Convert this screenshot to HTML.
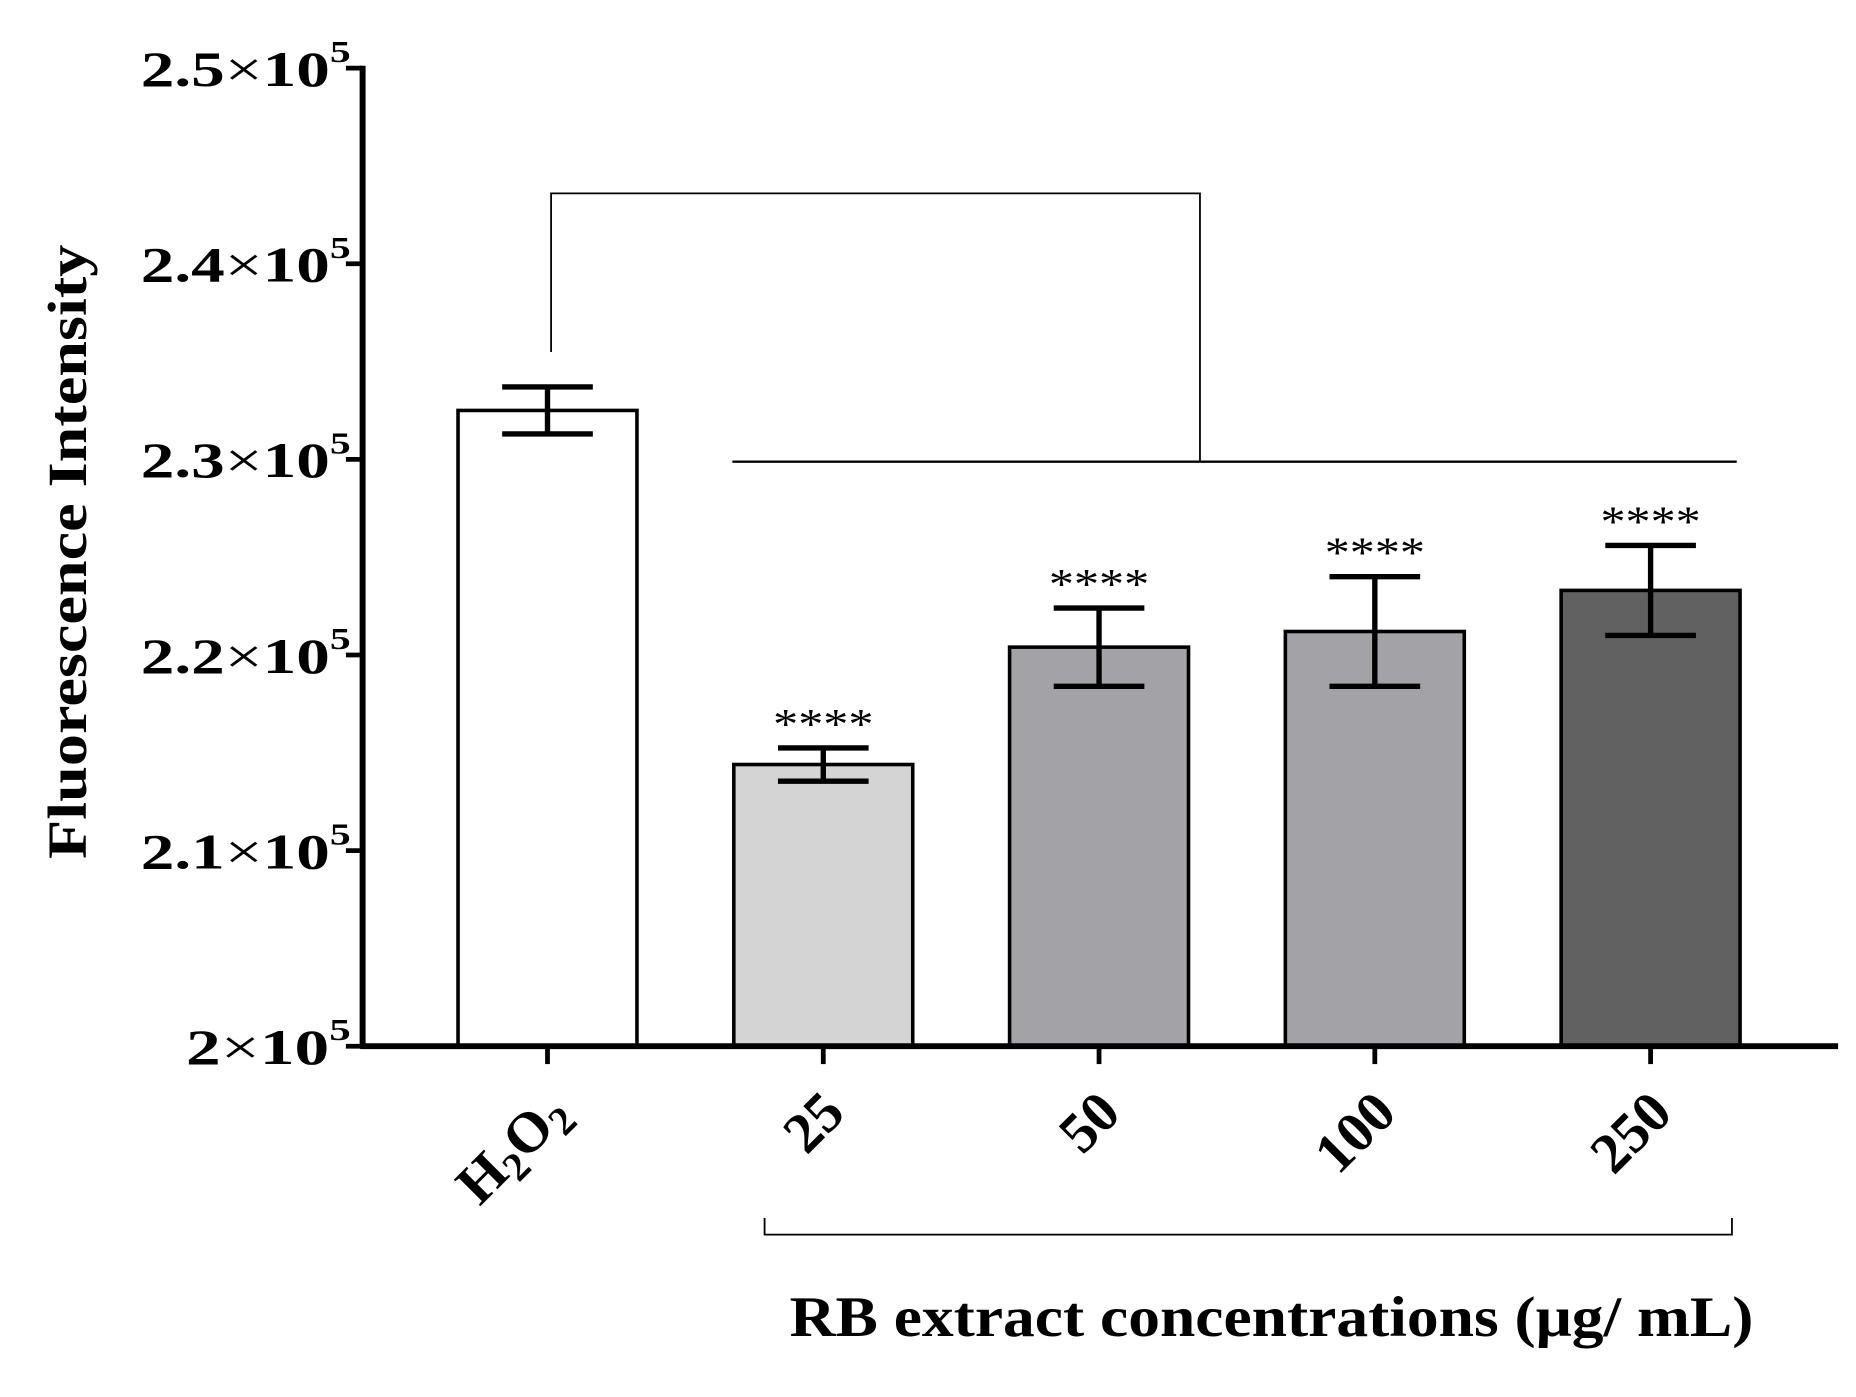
<!DOCTYPE html>
<html><head><meta charset="utf-8"><style>
html,body{margin:0;padding:0;background:#fff;}
svg{display:block;}
text{font-family:"Liberation Serif",serif;font-weight:bold;fill:#000;}
</style></head><body>
<svg id="chart" width="1856" height="1397" viewBox="0 0 1556 1171" xmlns="http://www.w3.org/2000/svg">
<g id="plot"></g>
</svg>
<script>
const categories = ["H2O2", "25", "50", "100", "250"];
const values = [2.325, 2.144, 2.204, 2.212, 2.233];
const errors = [0.012, 0.0085, 0.020, 0.028, 0.023];
const yTicks = [2.0, 2.1, 2.2, 2.3, 2.4, 2.5];
const yTickLabels = ["2", "2.1", "2.2", "2.3", "2.4", "2.5"];
const sigLabels = ["", "****", "****", "****", "****"];
const fills = ["#ffffff", "#d4d4d4", "#a3a3a7", "#a3a3a7", "#616161"];

const NS = "http://www.w3.org/2000/svg";
const g = document.getElementById("plot");
const x0 = 304, y0 = 877, yTop = 57;
const yMin = 2.0, yMax = 2.5;
function yScale(v){ return y0 - (v - yMin) / (yMax - yMin) * (y0 - yTop); }
const step = 231.2, firstX = 459, barW = 150;
function xScale(i){ return firstX + i * step; }
function mk(tag, attrs){ const e = document.createElementNS(NS, tag); for (const k in attrs) e.setAttribute(k, attrs[k]); g.appendChild(e); return e; }

categories.forEach((c, i) => {
  const cx = xScale(i), y = yScale(values[i]);
  const r = mk("rect", {x: cx - barW/2, y: y, width: barW, height: y0 - y, fill: fills[i], stroke: "#000", "stroke-width": 3});
  
  
  const hi = yScale(values[i] + errors[i]), lo = yScale(values[i] - errors[i]);
  const eg = document.createElementNS(NS, "g"); g.appendChild(eg);
  
  
  [[cx, hi, cx, lo], [cx - 38, hi, cx + 38, hi], [cx - 38, lo, cx + 38, lo]].forEach(p => {
    const l = document.createElementNS(NS, "line");
    l.setAttribute("x1", p[0]); l.setAttribute("y1", p[1]); l.setAttribute("x2", p[2]); l.setAttribute("y2", p[3]);
    l.setAttribute("stroke", "#000"); l.setAttribute("stroke-width", 4.5);
    eg.appendChild(l);
  });
  if (sigLabels[i]) {
    const t = mk("text", {x: cx, y: hi - 8, "text-anchor": "middle", "font-size": 36, textLength: 84, lengthAdjust: "spacingAndGlyphs"});
    
    
    t.style.fontWeight = "normal";
    t.textContent = sigLabels[i];
  }
  const tk = mk("line", {x1: cx, y1: y0, x2: cx, y2: y0 + 15, stroke: "#000", "stroke-width": 4});
  
  
  const lx = cx + 20, ly = y0 + 58;
  const t = mk("text", {x: lx, y: ly, "text-anchor": "end", "font-size": 48, transform: `rotate(-45 ${lx} ${ly})`});
  
  
  if (c === "H2O2") { t.innerHTML = 'H<tspan font-size="34" dy="9">2</tspan><tspan dy="-9">O</tspan><tspan font-size="34" dy="9">2</tspan>'; }
  else t.textContent = c;
});

yTicks.forEach((v, i) => {
  const y = yScale(v);
  const l = mk("line", {x1: x0 - 14, y1: y, x2: x0, y2: y, stroke: "#000", "stroke-width": 4});
  
  
  const len = yTickLabels[i].length === 1 ? 138 : 176;
  const t = mk("text", {x: 294 - len, y: y + 15, "font-size": 42, textLength: len, lengthAdjust: "spacingAndGlyphs"});
  
  
  t.innerHTML = yTickLabels[i] + '<tspan font-weight="normal">×</tspan>10<tspan font-size="26" dy="-20">5</tspan>';
});
</script>
<script>
(function(){
const g = document.getElementById("plot");
const NS = "http://www.w3.org/2000/svg";
function add(html){ const t = document.createElementNS(NS,"g"); t.innerHTML = html; g.appendChild(t); return t; }
add('<line x1="304" y1="55" x2="304" y2="879" stroke="#000" stroke-width="5"/>');
add('<line x1="302" y1="877" x2="1541" y2="877" stroke="#000" stroke-width="5"/>');
add('<polyline points="462,295 462,162 1006,162 1006,387" fill="none" stroke="#000" stroke-width="1.5"/>');
add('<line x1="614" y1="387" x2="1456" y2="387" stroke="#000" stroke-width="2"/>');
add('<polyline points="641,1021 641,1035 1452,1035 1452,1021" fill="none" stroke="#000" stroke-width="1.5"/>');
add('<text x="662" y="1120" font-size="48" textLength="808" lengthAdjust="spacingAndGlyphs">RB extract concentrations (μg/ mL)</text>');
add('<text x="72" y="720" font-size="46" textLength="515" lengthAdjust="spacingAndGlyphs" transform="rotate(-90 72 720)">Fluorescence Intensity</text>');
})();
</script>
</body></html>
